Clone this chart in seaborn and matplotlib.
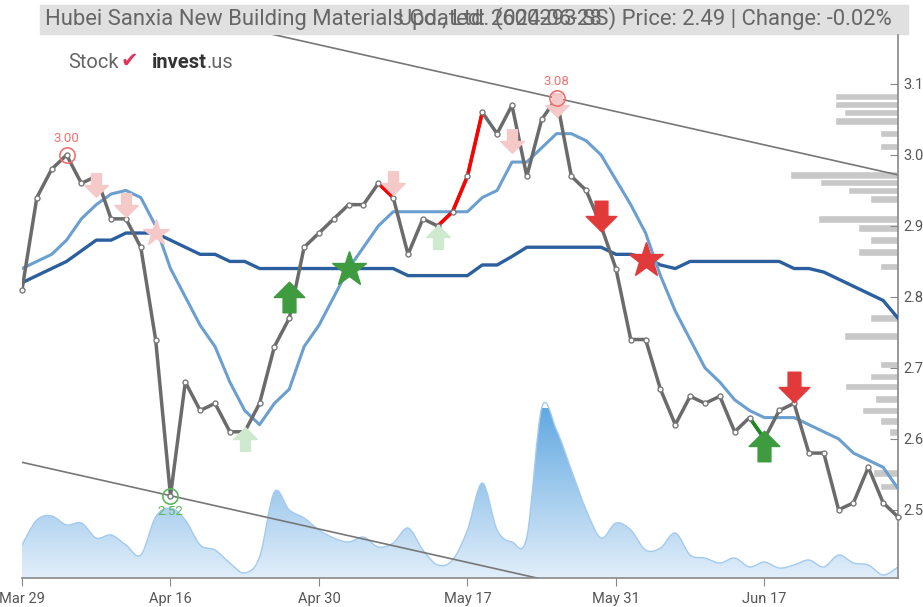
import numpy as np
import pandas as pd
import seaborn as sns
import matplotlib.pyplot as plt
from matplotlib.path import Path
from matplotlib.patches import Rectangle, PathPatch
from matplotlib.colors import LinearSegmentedColormap

sns.set_style("white")
plt.rcParams['font.family'] = ['Roboto', 'DejaVu Sans']

# trading days, index 0 = Mar 29 2024, index 59 = Jun 28 2024
tick_pos = [0, 10, 20, 30, 40, 50]
tick_labels = ["Mar 29", "Apr 16", "Apr 30", "May 17", "May 31", "Jun 17"]

price = [2.81, 2.94, 2.98, 3.00, 2.96, 2.97, 2.91, 2.91, 2.87, 2.74,
         2.52, 2.68, 2.64, 2.65, 2.61, 2.61, 2.65, 2.73, 2.77, 2.87,
         2.89, 2.91, 2.93, 2.93, 2.96, 2.94, 2.86, 2.91, 2.90, 2.92,
         2.97, 3.06, 3.03, 3.07, 2.97, 3.05, 3.08, 2.97, 2.95, 2.90,
         2.84, 2.74, 2.74, 2.67, 2.62, 2.66, 2.65, 2.66, 2.61, 2.63,
         2.60, 2.64, 2.65, 2.58, 2.58, 2.50, 2.51, 2.56, 2.51, 2.49]

ma_short = [2.84, 2.85, 2.86, 2.88, 2.91, 2.93, 2.945, 2.95, 2.94, 2.90,
            2.84, 2.80, 2.76, 2.73, 2.68, 2.64, 2.62, 2.65, 2.67, 2.73,
            2.76, 2.80, 2.84, 2.87, 2.90, 2.92, 2.92, 2.92, 2.92, 2.92,
            2.92, 2.94, 2.95, 2.99, 2.99, 3.01, 3.03, 3.03, 3.02, 3.00,
            2.965, 2.93, 2.89, 2.83, 2.78, 2.74, 2.70, 2.68, 2.655, 2.64,
            2.63, 2.63, 2.63, 2.62, 2.61, 2.60, 2.58, 2.57, 2.56, 2.53]

ma_long = [2.82, 2.83, 2.84, 2.85, 2.865, 2.88, 2.88, 2.89, 2.89, 2.89,
           2.88, 2.87, 2.86, 2.86, 2.85, 2.85, 2.84, 2.84, 2.84, 2.84,
           2.84, 2.84, 2.84, 2.84, 2.84, 2.84, 2.83, 2.83, 2.83, 2.83,
           2.83, 2.845, 2.845, 2.857, 2.87, 2.87, 2.87, 2.87, 2.87, 2.87,
           2.86, 2.86, 2.855, 2.845, 2.84, 2.85, 2.85, 2.85, 2.85, 2.85,
           2.85, 2.85, 2.84, 2.84, 2.835, 2.825, 2.815, 2.805, 2.795, 2.77]

# volume in millions of shares
volume = [3.3, 5.8, 6.2, 5.3, 5.5, 4.0, 4.3, 3.3, 2.3, 6.1,
          7.0, 5.8, 3.3, 2.8, 1.5, 0.5, 2.1, 8.6, 6.8, 6.0,
          4.8, 4.0, 3.6, 4.1, 3.1, 3.5, 5.0, 2.8, 1.3, 1.8,
          4.8, 9.5, 4.8, 3.6, 4.1, 17.0, 14.8, 10.8, 6.8, 4.0,
          5.5, 4.8, 2.8, 3.0, 4.5, 2.3, 2.0, 1.5, 2.0, 1.1,
          1.6, 1.0, 1.3, 1.8, 1.1, 2.3, 1.5, 1.3, 0.3, 1.1]

# volume-by-price profile (price level, relative volume)
profile_price = [3.082, 3.071, 3.060, 3.048, 3.030, 3.012, 2.972, 2.961,
                 2.950, 2.938, 2.910, 2.897, 2.880, 2.863, 2.843, 2.770,
                 2.745, 2.705, 2.688, 2.674, 2.656, 2.640, 2.625, 2.610,
                 2.552, 2.533]
profile_vol = [0.58, 0.58, 0.50, 0.58, 0.17, 0.17, 1.00, 0.72, 0.46, 0.26,
               0.74, 0.37, 0.26, 0.37, 0.17, 0.26, 0.50, 0.17, 0.26, 0.49,
               0.21, 0.33, 0.17, 0.08, 0.23, 0.17]

# signals: (index, level)
sell_faded = [(5, 2.958), (7, 2.93), (25, 2.96), (33, 3.02), (36, 3.07)]
buy_faded = [(15, 2.60), (28, 2.885)]
star_faded = [(9, 2.89)]
buy_solid = [(18, 2.80), (50, 2.59)]
sell_solid = [(39, 2.914), (52, 2.673)]
star_buy = [(22, 2.84)]
star_sell = [(42, 2.852)]

extremes_high = [(3, 3.00), (36, 3.08)]
extremes_low = [(10, 2.52)]

trend_slope = -0.0047
trend_upper = (36, 3.08)
trend_lower = (10, 2.52)

red_segments = [(24, 25), (28, 31)]
green_segments = [(49, 50)]

idx = np.arange(len(price))
df = pd.DataFrame({"day": idx, "price": price, "ma_short": ma_short,
                   "ma_long": ma_long, "volume": volume})

fig = plt.figure(figsize=(9.23, 6.07), dpi=100)
ax = fig.add_axes([22/923, 29/607, 876/923, 543/607])
ax2 = ax.twinx()
ax3 = ax.twiny()
ax2.set_zorder(0)
ax3.set_zorder(1)
ax.set_zorder(2)
ax.patch.set_visible(False)

# volume area: smooth curve through the daily values, gradient fill
vmax = max(volume)
xv = df["day"].to_numpy(dtype=float)
yv = df["volume"].to_numpy(dtype=float)
verts = [(xv[0], 0), (xv[0], yv[0])]
codes = [Path.MOVETO, Path.LINETO]
for k in range(len(xv) - 1):
    p0 = (xv[max(k - 1, 0)], yv[max(k - 1, 0)])
    p1 = (xv[k], yv[k])
    p2 = (xv[k + 1], yv[k + 1])
    p3 = (xv[min(k + 2, len(xv) - 1)], yv[min(k + 2, len(xv) - 1)])
    c1 = (p1[0] + (p2[0] - p0[0]) / 6, max(p1[1] + (p2[1] - p0[1]) / 6, 0))
    c2 = (p2[0] - (p3[0] - p1[0]) / 6, max(p2[1] - (p3[1] - p1[1]) / 6, 0))
    verts += [c1, c2, p2]
    codes += [Path.CURVE4] * 3
edge_path = Path(verts[1:], [Path.MOVETO] + codes[2:])
verts += [(xv[-1], 0), (xv[0], 0)]
codes += [Path.LINETO, Path.CLOSEPOLY]
area = Path(verts, codes)
ax2.add_patch(PathPatch(edge_path, facecolor="none", edgecolor="#a3caee", lw=1, zorder=2))
cmap = LinearSegmentedColormap.from_list("vol", ["#e2eefa", "#62a9e1"])
grad = np.linspace(0, 1, 256).reshape(-1, 1)
im = ax2.imshow(grad, extent=[0, 59, 0, vmax], origin="lower", aspect="auto",
                cmap=cmap, zorder=1)
im.set_clip_path(PathPatch(area, transform=ax2.transData))
ax2.set_ylim(0, vmax / 0.313)
ax2.set_xlim(0, 59)
ax2.axis("off")

# price profile bars from the right edge
ax3.barh(profile_price, profile_vol, height=0.0105, left=0, color="#c8c8c8",
         align="center")
ax3.set_xlim(8.1, 0)
ax3.axis("off")

# trend channel
tx = np.array([0, 59])
for x0, y0 in [trend_upper, trend_lower]:
    ax.plot(tx, y0 + trend_slope * (tx - x0), color="#777777", lw=1.2, zorder=2)

sns.lineplot(data=df, x="day", y="ma_long", ax=ax, color="#2b5f9e", lw=2.4, zorder=3)
sns.lineplot(data=df, x="day", y="ma_short", ax=ax, color="#6a9fd0", lw=2.2, zorder=3)
sns.lineplot(data=df, x="day", y="price", ax=ax, color="#6b6b6b", lw=2.5, zorder=4)
for a, b in red_segments:
    seg = df.iloc[a:b + 1]
    ax.plot(seg["day"], seg["price"], color="#ff0000", lw=2.5, zorder=5)
for a, b in green_segments:
    seg = df.iloc[a:b + 1]
    ax.plot(seg["day"], seg["price"], color="#1a8a1a", lw=2.5, zorder=5)
ax.plot(df["day"], df["price"], "o", ms=3.6, mfc="white", mec="#7a7a7a",
        mew=1, zorder=6, clip_on=False)

# arrow markers
up = Path([(0, 1), (1, 0), (0.42, 0), (0.42, -1), (-0.42, -1), (-0.42, 0),
           (-1, 0), (0, 1)], closed=True)
down = Path([(0, -1), (1, 0), (0.42, 0), (0.42, 1), (-0.42, 1), (-0.42, 0),
             (-1, 0), (0, -1)], closed=True)

def put(points, marker, color, size):
    xs = [p[0] for p in points]
    ys = [p[1] for p in points]
    ax.plot(xs, ys, linestyle="none", marker=marker, ms=size, color=color,
            mec=color, zorder=7)

put(sell_faded, down, "#f6c9c9", 17)
put(buy_faded, up, "#cfe9cf", 17)
put(star_faded, "*", "#f6c9c9", 20)
put(buy_solid, up, "#3f9b3f", 22)
put(sell_solid, down, "#e23a3a", 22)
put(star_buy, "*", "#3f9b3f", 26)
put(star_sell, "*", "#e23a3a", 26)

for x0, y0 in extremes_high:
    ax.plot(x0, y0, "o", ms=11, mfc="none", mec="#f07070", mew=1.2, zorder=8)
    ax.annotate(f"{y0:.2f}", (x0, y0), xytext=(0, 7), textcoords="offset points",
                ha="center", va="bottom", color="#f07070", fontsize=9.5, zorder=8)
for x0, y0 in extremes_low:
    ax.plot(x0, y0, "o", ms=11, mfc="none", mec="#5cb85c", mew=1.2, zorder=8)
    ax.annotate(f"{y0:.2f}", (x0, y0), xytext=(0, -7), textcoords="offset points",
                ha="center", va="top", color="#5cb85c", fontsize=9.5, zorder=8)

ax.set_xlim(0, 59)
ax.set_ylim(2.404, 3.169)
ax.set_xticks(tick_pos)
ax.set_xticklabels(tick_labels)
ax.set_yticks([2.5, 2.6, 2.7, 2.8, 2.9, 3.0, 3.1])
ax.set_yticklabels(["2.5", "2.6", "2.7", "2.8", "2.9", "3.0", "3.1"])
ax.yaxis.tick_right()
ax.tick_params(axis="x", direction="out", length=6, color="#888888",
               labelcolor="#555555", labelsize=10.5, pad=4)
ax.tick_params(axis="y", direction="in", length=6, color="#888888",
               labelcolor="#555555", labelsize=10.5, pad=4)
ax.set_xlabel("")
ax.set_ylabel("")
for s in ["top", "left"]:
    ax.spines[s].set_visible(False)
for s in ["bottom", "right"]:
    ax.spines[s].set_color("#888888")
    ax.spines[s].set_linewidth(1.2)

# title bar
fig.patches.append(Rectangle((40/923, 1 - 34/607), 868/923, 29/607,
                             transform=fig.transFigure, color="#e0e0e0", zorder=0))
fig.text(45/923, 1 - 19/607,
         "Hubei Sanxia New Building Materials Co., Ltd. (600293.SS) Price: 2.49 | Change: -0.02%",
         ha="left", va="center", fontsize=15.8, color="#666666")
fig.text(398/923, 1 - 19/607, "Updated: 2024-06-28", ha="left", va="center",
         fontsize=15.8, color="#666666")

# logo
renderer = fig.canvas.get_renderer()
fig.text(68/923, 1 - 62/607, "Stock", ha="left", va="center", fontsize=14.5,
         color="#666666")
fig.text(121/923, 1 - 61/607, "\u2714", ha="left", va="center", fontsize=15,
         color="#e0325a", family="DejaVu Sans")
t_inv = fig.text(152/923, 1 - 62/607, "invest", ha="left", va="center",
                 fontsize=14.5, color="#333333", weight="bold")
x_end = t_inv.get_window_extent(renderer=renderer).x1
fig.text(x_end / 923, 1 - 62/607, ".us", ha="left", va="center", fontsize=14.5,
         color="#666666")

fig.savefig("out.png", dpi=100)
